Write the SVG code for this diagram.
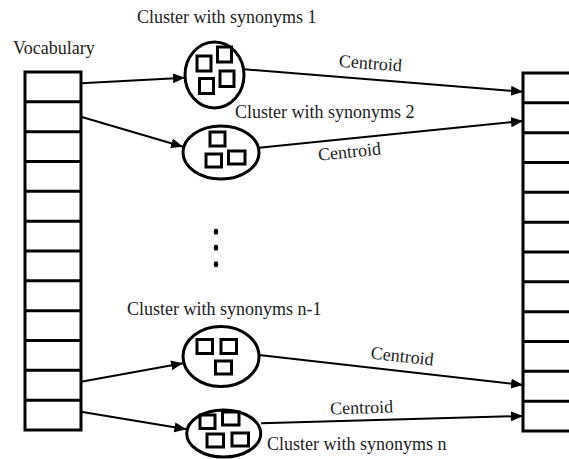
<svg xmlns="http://www.w3.org/2000/svg" width="569" height="459" viewBox="0 0 569 459">
<style>
text{font-family:"Liberation Serif","Times New Roman",serif;font-size:18px;fill:#222}
.tbl{fill:#fff;stroke:#000;stroke-width:3}
.row{stroke:#000;stroke-width:3}
.cl{fill:#fff;stroke:#000;stroke-width:3}
.sq{fill:none;stroke:#000;stroke-width:3}
.ar{fill:none;stroke:#000;stroke-width:2;marker-end:url(#ah)}
</style>
<defs>
<marker id="ah" markerUnits="userSpaceOnUse" markerWidth="14" markerHeight="12" refX="12" refY="5" orient="auto" viewBox="0 0 14 12">
<path d="M0,0 L12,5 L0,10 Z" fill="#000"/>
</marker>
</defs>
<g id="vocabulary">
<text x="13" y="54">Vocabulary</text>
<rect class="tbl" x="25" y="72" width="56" height="358"/>
<path class="row" d="M25,101.8H81M25,131.7H81M25,161.5H81M25,191.3H81M25,221.2H81M25,251H81M25,280.8H81M25,310.7H81M25,340.5H81M25,370.3H81M25,400.2H81"/>
</g>
<g id="centroids">
<rect class="tbl" x="523" y="73" width="60" height="358"/>
<path class="row" d="M523,102.8H583M523,132.7H583M523,162.5H583M523,192.3H583M523,222.2H583M523,252H583M523,281.8H583M523,311.7H583M523,341.5H583M523,371.3H583M523,401.2H583"/>
</g>
<g id="cluster1">
<text x="137" y="23">Cluster with synonyms 1</text>
<ellipse class="cl" cx="214.5" cy="75" rx="29.5" ry="33"/>
<rect class="sq" x="197" y="56" width="14" height="15"/>
<rect class="sq" x="217.5" y="47" width="14" height="15"/>
<rect class="sq" x="199.5" y="78.5" width="14" height="15"/>
<rect class="sq" x="220" y="71" width="14" height="15.5"/>
</g>
<g id="cluster2">
<text x="235" y="118">Cluster with synonyms 2</text>
<ellipse class="cl" cx="221" cy="152.5" rx="38" ry="26.5"/>
<rect class="sq" x="210" y="132" width="15" height="14"/>
<rect class="sq" x="206" y="154" width="15.5" height="13"/>
<rect class="sq" x="228.5" y="151" width="16.5" height="13"/>
</g>
<g id="dots">
<ellipse cx="216" cy="231.7" rx="2.2" ry="3"/>
<ellipse cx="216" cy="247.7" rx="2.2" ry="3"/>
<ellipse cx="216" cy="264.3" rx="2.2" ry="3"/>
</g>
<g id="cluster-n-1">
<text x="127" y="315">Cluster with synonyms n-1</text>
<ellipse class="cl" cx="221" cy="356.5" rx="38" ry="30"/>
<rect class="sq" x="197" y="339.5" width="15.5" height="14"/>
<rect class="sq" x="221" y="339.5" width="15.5" height="14"/>
<rect class="sq" x="215.5" y="361" width="16" height="13"/>
</g>
<g id="cluster-n">
<text x="267" y="450">Cluster with synonyms n</text>
<ellipse class="cl" cx="223.7" cy="433.5" rx="37" ry="23.5"/>
<rect class="sq" x="200" y="415" width="15" height="13.5"/>
<rect class="sq" x="222.5" y="412" width="16.5" height="13"/>
<rect class="sq" x="207" y="434" width="16.5" height="13"/>
<rect class="sq" x="232" y="433" width="16.5" height="13"/>
</g>
<g id="connectors">
<line class="ar" x1="81" y1="83.3" x2="185" y2="77.7"/>
<line class="ar" x1="81" y1="116.7" x2="183" y2="146.7"/>
<line class="ar" x1="81" y1="381.7" x2="183" y2="363.3"/>
<line class="ar" x1="81" y1="411.7" x2="186.5" y2="429.3"/>
<line class="ar" x1="244" y1="69.3" x2="523" y2="91.7"/>
<line class="ar" x1="259" y1="147.7" x2="523" y2="121"/>
<line class="ar" x1="259" y1="355" x2="523" y2="385"/>
<line class="ar" x1="261" y1="423.3" x2="523" y2="416"/>
<text x="370" y="69" text-anchor="middle" transform="rotate(4.3 370 69)">Centroid</text>
<text x="350" y="157.5" text-anchor="middle" transform="rotate(-5.8 350 157.5)">Centroid</text>
<text x="401.7" y="362" text-anchor="middle" transform="rotate(6.2 401.7 362)">Centroid</text>
<text x="361.7" y="413.5" text-anchor="middle" transform="rotate(-1.6 361.7 413.5)">Centroid</text>
</g>
</svg>
